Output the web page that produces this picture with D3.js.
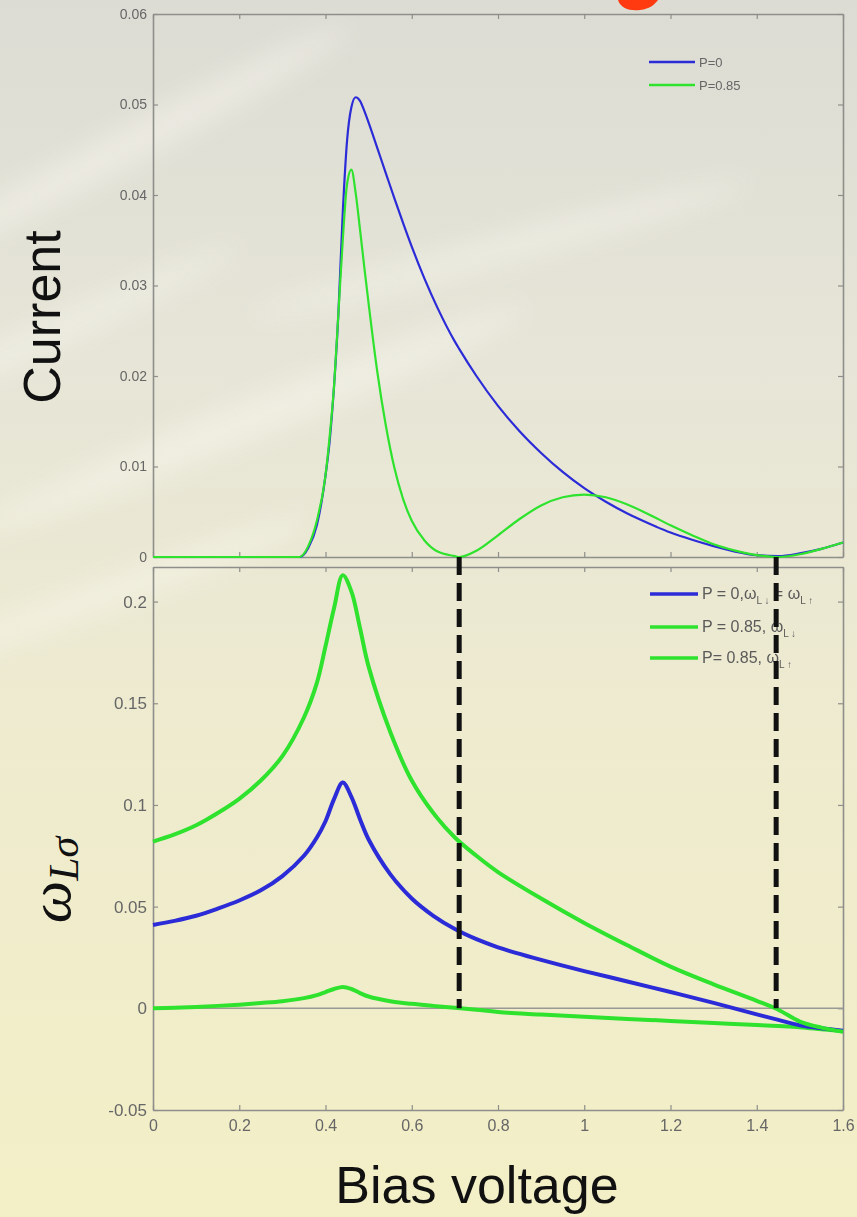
<!DOCTYPE html>
<html>
<head>
<meta charset="utf-8">
<script src="https://cdn.jsdelivr.net/npm/d3@7"></script>
<style>
  body { margin: 0; background: #ebe9d6; }
  svg { display: block; }
</style>
</head>
<body>
<svg id="chart"></svg>
<script>
// top panel: current vs bias
const biasCur = [0, 0.1, 0.2, 0.3, 0.34, 0.36, 0.38, 0.40, 0.41, 0.42, 0.43, 0.44, 0.45, 0.46, 0.47, 0.48, 0.49, 0.50,
  0.52, 0.54, 0.56, 0.58, 0.60, 0.63, 0.66, 0.70, 0.71, 0.75, 0.80, 0.85, 0.90, 0.95, 1.00, 1.05, 1.10, 1.15, 1.20,
  1.25, 1.30, 1.35, 1.40, 1.45, 1.50, 1.55, 1.60];
const currentP0 = [0, 0, 0, 0, 0, 0.001, 0.0035, 0.009, 0.013, 0.019, 0.027, 0.038, 0.046, 0.0497, 0.0508, 0.0504, 0.0493, 0.0480,
  0.0452, 0.0424, 0.0396, 0.0369, 0.0343, 0.0307, 0.0275, 0.0238, 0.0230, 0.0200, 0.0167, 0.0139, 0.0115, 0.0094, 0.0076, 0.0061, 0.0048, 0.0037, 0.0027,
  0.0019, 0.0012, 0.0006, 0.0002, 0.0001, 0.0004, 0.0009, 0.0016];
const currentP085 = [0, 0, 0, 0, 0, 0.0012, 0.004, 0.009, 0.0135, 0.019, 0.027, 0.035, 0.0412, 0.0428, 0.0402, 0.0362, 0.032, 0.028,
  0.0205, 0.0145, 0.0098, 0.0064, 0.004, 0.0018, 0.0006, 0.0001, 0, 0.0007, 0.0024, 0.0042, 0.0057, 0.0066, 0.0069, 0.0066, 0.0058, 0.0047, 0.0035,
  0.0024, 0.0014, 0.0007, 0.0002, 0, 0.0003, 0.0009, 0.0016];

// bottom panel: omega_L sigma vs bias
const biasOmega = [0, 0.05, 0.1, 0.15, 0.2, 0.25, 0.3, 0.35, 0.38, 0.4, 0.42, 0.44, 0.46, 0.48, 0.5, 0.55, 0.6, 0.65, 0.7,
  0.75, 0.8, 0.9, 1.0, 1.1, 1.2, 1.3, 1.4, 1.45, 1.5, 1.55, 1.6];
const omegaP0 = [0.041, 0.043, 0.0455, 0.049, 0.053, 0.058, 0.065, 0.075, 0.084, 0.092, 0.103, 0.111, 0.104, 0.093, 0.083, 0.066, 0.054, 0.0455, 0.039,
  0.034, 0.030, 0.0238, 0.0183, 0.0132, 0.0080, 0.0027, -0.003, -0.0057, -0.0083, -0.0098, -0.011];
const omegaDown = [0.082, 0.0855, 0.09, 0.096, 0.103, 0.112, 0.124, 0.143, 0.16, 0.178, 0.197, 0.213, 0.205, 0.187, 0.168, 0.136, 0.112, 0.096, 0.084,
  0.075, 0.067, 0.054, 0.042, 0.031, 0.0205, 0.0118, 0.0037, -0.0007, -0.0065, -0.0095, -0.0115];
const omegaUp = [0, 0.0003, 0.0007, 0.0012, 0.0018, 0.0026, 0.0035, 0.005, 0.0065, 0.008, 0.0095, 0.0105, 0.0095, 0.0075, 0.0058, 0.0035, 0.0022, 0.0012, 0.0003,
  -0.0007, -0.0018, -0.0031, -0.0042, -0.0052, -0.0062, -0.0072, -0.0082, -0.0087, -0.0093, -0.0103, -0.0113];

const biasTicks = [0, 0.2, 0.4, 0.6, 0.8, 1, 1.2, 1.4, 1.6];
const currentTicks = [0, 0.01, 0.02, 0.03, 0.04, 0.05, 0.06];
const omegaTicks = [-0.05, 0, 0.05, 0.1, 0.15, 0.2];
const markerBias = [0.71, 1.445]; // dashed lines where the current vanishes

const W = 857, H = 1217;
const blue = '#2b2bd8', green = '#2ee22e';
const fmt = d => d === 0 ? '0' : String(+d.toFixed(2));

const svg = d3.select('#chart').attr('width', W).attr('height', H);

// slide background
const defs = svg.append('defs');
const bg = defs.append('linearGradient').attr('id', 'bg').attr('x1', 0).attr('y1', 0).attr('x2', 0).attr('y2', 1);
bg.append('stop').attr('offset', '0%').attr('stop-color', '#dddcd4');
bg.append('stop').attr('offset', '30%').attr('stop-color', '#e6e5d7');
bg.append('stop').attr('offset', '60%').attr('stop-color', '#eeebcf');
bg.append('stop').attr('offset', '100%').attr('stop-color', '#f3efc6');
defs.append('filter').attr('id', 'blur').append('feGaussianBlur').attr('stdDeviation', 14);
svg.append('rect').attr('width', W).attr('height', H).attr('fill', 'url(#bg)');
// soft light streaks like the photo
const streaks = svg.append('g').attr('filter', 'url(#blur)').attr('opacity', 0.45);
[[120, 150, 260, 18, -28], [60, 330, 200, 14, -25], [250, 420, 300, 20, -22], [90, 600, 240, 16, -20], [500, 250, 260, 14, -15]]
  .forEach(([cx, cy, rx, ry, a]) => {
    streaks.append('ellipse').attr('cx', cx).attr('cy', cy).attr('rx', rx).attr('ry', ry)
      .attr('fill', '#fbfaf2').attr('transform', `rotate(${a},${cx},${cy})`);
  });

// red remnant of the slide title
svg.append('path')
  .attr('d', 'M618,0 C621,9 630,11 640,10 C650,9 655,4 658,0 Z')
  .attr('fill', '#ff3a10');

const x = d3.scaleLinear().domain([0, 1.6]).range([153, 843]);
const yCur = d3.scaleLinear().domain([0, 0.06]).range([557, 14]);
const yOm = d3.scaleLinear().domain([-0.05, 0.217]).range([1110, 567]);

function box(g, yScale, yTicks, showX, yFont, xFont) {
  const [yb, yt] = yScale.range();
  g.append('g').attr('transform', `translate(${x(0)},0)`)
    .call(d3.axisLeft(yScale).tickValues(yTicks).tickFormat(fmt).tickSizeInner(-5).tickSizeOuter(0).tickPadding(6))
    .attr('font-size', yFont);
  g.append('g').attr('transform', `translate(${x(1.6)},0)`)
    .call(d3.axisRight(yScale).tickValues(yTicks).tickFormat('').tickSizeInner(-5).tickSizeOuter(0));
  g.append('g').attr('transform', `translate(0,${yt})`)
    .call(d3.axisTop(x).tickValues(biasTicks).tickFormat('').tickSizeInner(-5).tickSizeOuter(0));
  g.append('g').attr('transform', `translate(0,${yb})`)
    .call(d3.axisBottom(x).tickValues(biasTicks).tickFormat(showX ? fmt : '').tickSizeInner(-5).tickSizeOuter(0).tickPadding(10))
    .attr('font-size', xFont);
  g.selectAll('.domain').attr('stroke', '#8e8e8a').attr('stroke-width', 1.6);
  g.selectAll('.tick line').attr('stroke', '#8e8e8a').attr('stroke-width', 1.2);
  g.selectAll('text').attr('fill', '#666').attr('font-family', '"Liberation Sans", Arial, sans-serif');
}

// top panel
const topPanel = svg.append('g');
box(topPanel, yCur, currentTicks, false, 14, 14);
const lineCur = vals => d3.line().x((d, i) => x(biasCur[i])).y(d => yCur(d)).curve(d3.curveMonotoneX)(vals);
topPanel.append('path').attr('d', lineCur(currentP0)).attr('fill', 'none').attr('stroke', blue).attr('stroke-width', 2.2);
topPanel.append('path').attr('d', lineCur(currentP085)).attr('fill', 'none').attr('stroke', green).attr('stroke-width', 2.2);

// bottom panel
const botPanel = svg.append('g');
box(botPanel, yOm, omegaTicks, true, 17, 16);
botPanel.append('line').attr('x1', x(0)).attr('x2', x(1.6)).attr('y1', yOm(0)).attr('y2', yOm(0))
  .attr('stroke', '#9a9a94').attr('stroke-width', 1.4);
const lineOm = vals => d3.line().x((d, i) => x(biasOmega[i])).y(d => yOm(d)).curve(d3.curveCatmullRom.alpha(0.5))(vals);
botPanel.append('path').attr('d', lineOm(omegaUp)).attr('fill', 'none').attr('stroke', green).attr('stroke-width', 4);
botPanel.append('path').attr('d', lineOm(omegaP0)).attr('fill', 'none').attr('stroke', blue).attr('stroke-width', 4);
botPanel.append('path').attr('d', lineOm(omegaDown)).attr('fill', 'none').attr('stroke', green).attr('stroke-width', 4);

// legends
const sans = '"Liberation Sans", Arial, sans-serif';
const legTop = svg.append('g').attr('font-family', sans).attr('font-size', 13).attr('fill', '#666');
[['P=0', blue, 62], ['P=0.85', green, 85]].forEach(([t, c, yy]) => {
  legTop.append('line').attr('x1', 649).attr('x2', 695).attr('y1', yy).attr('y2', yy).attr('stroke', c).attr('stroke-width', 2.4);
  legTop.append('text').attr('x', 699).attr('y', yy + 4.5).text(t);
});

const legBot = svg.append('g').attr('font-family', sans).attr('font-size', 16).attr('fill', '#5a5a5a');
const rows = [
  { c: blue, y: 594, parts: [['P = 0,ω'], ['L ↓', 1], [' = ω'], ['L ↑', 1]] },
  { c: green, y: 627, parts: [['P = 0.85, ω'], ['L ↓', 1]] },
  { c: green, y: 658, parts: [['P= 0.85, ω'], ['L ↑', 1]] }
];
rows.forEach(r => {
  legBot.append('line').attr('x1', 650).attr('x2', 698).attr('y1', r.y).attr('y2', r.y).attr('stroke', r.c).attr('stroke-width', 3.5);
  const t = legBot.append('text').attr('x', 702).attr('y', r.y + 5);
  let sub = false;
  r.parts.forEach(([s, isSub]) => {
    const ts = t.append('tspan').text(s);
    if (isSub && !sub) { ts.attr('dy', 5).attr('font-size', 10); sub = true; }
    else if (!isSub && sub) { ts.attr('dy', -5); sub = false; }
  });
});

// dashed markers across both panels
markerBias.forEach(b => {
  svg.append('line').attr('x1', x(b)).attr('x2', x(b)).attr('y1', yCur(0)).attr('y2', yOm(0))
    .attr('stroke', '#111').attr('stroke-width', 5).attr('stroke-dasharray', '18,8');
});

// axis titles
svg.append('text').attr('transform', 'translate(60,317) rotate(-90)').attr('text-anchor', 'middle')
  .attr('font-family', sans).attr('font-size', 52).attr('fill', '#111').text('Current');
svg.append('text').attr('x', 477).attr('y', 1203).attr('text-anchor', 'middle')
  .attr('font-family', sans).attr('font-size', 52).attr('fill', '#111').text('Bias voltage');
const om = svg.append('text').attr('transform', 'translate(70,880) rotate(-90)').attr('text-anchor', 'middle')
  .attr('font-family', '"Liberation Serif", "DejaVu Serif", serif').attr('font-style', 'italic').attr('fill', '#111');
om.append('tspan').attr('font-size', 60).text('ω');
om.append('tspan').attr('font-size', 42).attr('dy', 8).text('Lσ');
</script>
</body>
</html>
